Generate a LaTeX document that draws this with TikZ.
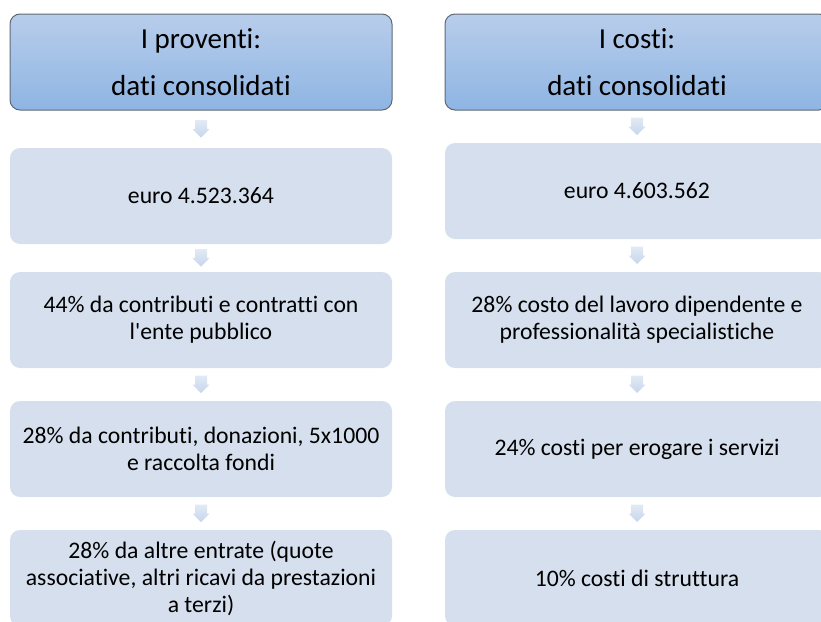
\documentclass[tikz,border=0pt]{standalone}
\usepackage{fontspec}
\setmainfont{Carlito}[RawFeature={-liga;-calt;-dlig;-clig}]
\usetikzlibrary{calc}
\definecolor{boxfill}{RGB}{213,223,237}
\definecolor{headtop}{RGB}{184,205,235}
\definecolor{headbot}{RGB}{142,181,227}
\definecolor{headline}{RGB}{95,105,115}
\definecolor{arrtop}{RGB}{226,234,245}
\definecolor{arrbot}{RGB}{198,214,236}
\tikzset{
  headbox/.style={draw=headline, line width=1pt, rounded corners=10pt,
    top color=headtop, bottom color=headbot,
    minimum width=382pt, minimum height=96pt, inner sep=0pt,
    align=center, font=\fontsize{29}{47}\selectfont},
  databox/.style={fill=boxfill, rounded corners=10pt,
    minimum width=382pt, minimum height=96pt, inner sep=0pt,
    align=center, font=\fontsize{23.7}{27}\selectfont},
  downarrow/.style={top color=arrtop, bottom color=arrbot, draw=none}
}
\newcommand{\flowarrow}[2]{%
  \path[downarrow] ($(#1.south)!0.5!(#2.north)$) ++(-6pt,9pt) -- ++(0,-9pt) -- ++(-2.5pt,0) -- ++(8.5pt,-8.5pt) -- ++(8.5pt,8.5pt) -- ++(-2.5pt,0) -- ++(0,9pt) -- cycle;}
\begin{document}
\begin{tikzpicture}[x=1pt,y=-1pt]
\useasboundingbox (0,0) rectangle (821,621);
\clip (0,0) rectangle (821,621);
% left column
\node[headbox] (lh) at (201,62) {I proventi:\\dati consolidati};
\node[databox] (l1) at (201,196) {euro 4.523.364};
\node[databox] (l2) at (201,320) {44\% da contributi e contratti con\\l\textquotesingle ente pubblico};
\node[databox] (l3) at (201,449) {28\% da contributi, donazioni, 5x1000\\e raccolta fondi};
\node[databox] (l4) at (201,578) {28\% da altre entrate (quote\\associative, altri ricavi da prestazioni\\a terzi)};
% right column
\node[headbox, minimum width=384pt] (rh) at (637,62) {I costi:\\dati consolidati};
\node[databox, minimum width=384pt] (r1) at (637,191) {euro 4.603.562};
\node[databox, minimum width=384pt] (r2) at (637,320) {28\% costo del lavoro dipendente e\\professionalità specialistiche};
\node[databox, minimum width=384pt] (r3) at (637,449) {24\% costi per erogare i servizi};
\node[databox, minimum width=384pt] (r4) at (637,578) {10\% costi di struttura};
% arrows
\flowarrow{lh}{l1}
\flowarrow{l1}{l2}
\flowarrow{l2}{l3}
\flowarrow{l3}{l4}
\flowarrow{rh}{r1}
\flowarrow{r1}{r2}
\flowarrow{r2}{r3}
\flowarrow{r3}{r4}
\end{tikzpicture}
\end{document}
